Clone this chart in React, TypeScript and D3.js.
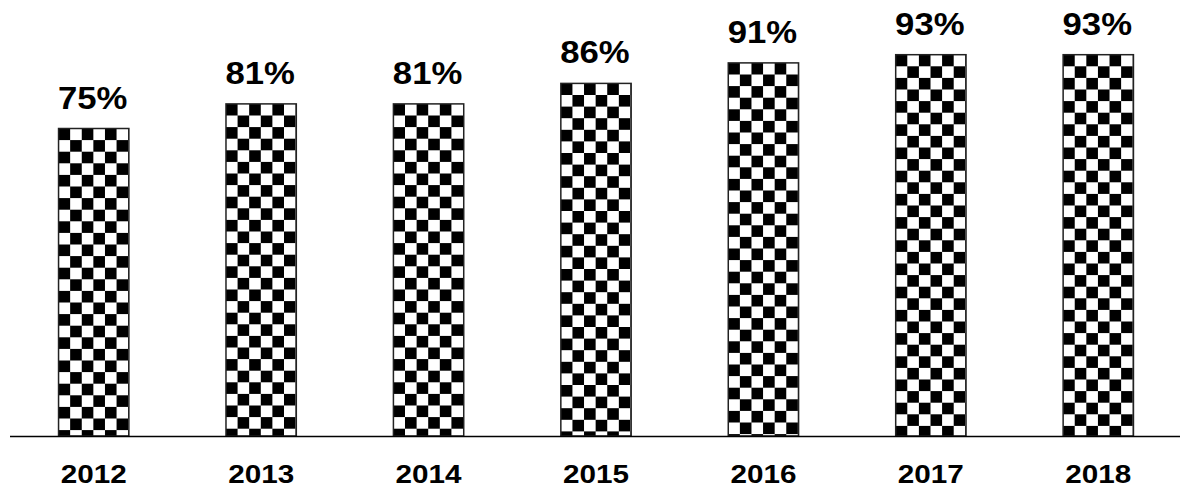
import React from "react";
import * as d3 from "d3";

const years = ["2012", "2013", "2014", "2015", "2016", "2017", "2018"];
const values = [75, 81, 81, 86, 91, 93, 93];

const W = 1180;
const H = 491;
const baseY = 436;
const SQ = 11.6;

export default function App() {
  const x = d3.scaleBand<string>().domain(years).range([10, 1182]).paddingInner(0.58).paddingOuter(0.29);
  const y = d3.scaleLinear().domain([0, 100]).range([baseY, 26]);
  const bw = x.bandwidth();
  return (
    <svg width={W} height={H} style={{ position: "absolute", left: 0, top: 0, background: "#fff" }}>
      <defs>
        {years.map((yr, i) => (
          <pattern
            key={yr}
            id={`chk${i}`}
            patternUnits="userSpaceOnUse"
            width={SQ * 2}
            height={SQ * 2}
            patternTransform={`translate(${x(yr)},${y(values[i])})`}
          >
            <rect width={SQ * 2} height={SQ * 2} fill="#fff" />
            <rect x={0} y={0} width={SQ} height={SQ} fill="#000" />
            <rect x={SQ} y={SQ} width={SQ} height={SQ} fill="#000" />
          </pattern>
        ))}
      </defs>
      {years.map((yr, i) => (
        <rect
          key={yr}
          x={x(yr)!}
          y={y(values[i])}
          width={bw}
          height={baseY - y(values[i])}
          fill={`url(#chk${i})`}
          stroke="#222"
          strokeWidth={1.5}
        />
      ))}
      <line x1={10} x2={W} y1={baseY + 0.5} y2={baseY + 0.5} stroke="#000" strokeWidth={1.5} />
      {years.map((yr, i) => {
        const cx = x(yr)! + bw / 2;
        return (
          <g key={yr}>
            <text
              transform={`translate(${cx - 1},${y(values[i]) - 20}) scale(1.12,1)`}
              textAnchor="middle"
              fontFamily="'Liberation Sans', Arial, sans-serif"
              fontWeight="bold"
              fontSize={31}
              fill="#000"
            >
              {values[i]}%
            </text>
            <text
              transform={`translate(${cx},${482.5}) scale(1.12,1)`}
              textAnchor="middle"
              fontFamily="'Liberation Sans', Arial, sans-serif"
              fontWeight="bold"
              fontSize={26.5}
              fill="#000"
            >
              {yr}
            </text>
          </g>
        );
      })}
    </svg>
  );
}
